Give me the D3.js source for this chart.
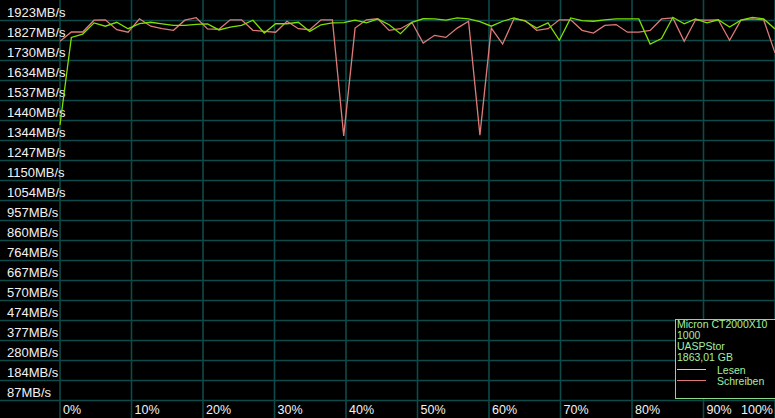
<!DOCTYPE html>
<html>
<head>
<meta charset="utf-8">
<script src="https://cdn.jsdelivr.net/npm/d3@7"></script>
<style>
  html, body { margin: 0; padding: 0; background: #000; overflow: hidden; }
  svg { display: block; }
</style>
</head>
<body>
<svg id="chart" width="775" height="418"></svg>
<script>
// ---- data ----
const yTickLabels = [1923, 1827, 1730, 1634, 1537, 1440, 1344, 1247, 1150, 1054, 957, 860, 764, 667, 570, 474, 377, 280, 184, 87];
const xTickLabels = [0, 10, 20, 30, 40, 50, 60, 70, 80, 90, 100];
const seriesNames = ["Lesen", "Schreiben"];
const deviceInfo = ["Micron CT2000X10", "1000", "UASPStor", "1863,01 GB"];

// Lesen (read) MB/s, 64 samples across 0..100%
const lesen = [1416, 1839, 1855, 1909, 1893, 1912, 1881, 1905, 1912, 1904, 1897, 1897,
  1902, 1904, 1875, 1889, 1897, 1922, 1860, 1905, 1905, 1912, 1868, 1900,
  1909, 1910, 1922, 1909, 1928, 1900, 1857, 1912, 1929, 1928, 1922, 1933,
  1928, 1915, 1893, 1917, 1933, 1917, 1884, 1909, 1825, 1933, 1920, 1917,
  1924, 1928, 1928, 1928, 1807, 1833, 1936, 1905, 1928, 1909, 1924, 1889,
  1922, 1936, 1928, 1880];

// Schreiben (write) MB/s
const schreiben = [1820, 1865, 1865, 1922, 1924, 1876, 1864, 1929, 1893, 1881, 1873, 1922,
  1934, 1880, 1878, 1924, 1924, 1873, 1868, 1864, 1917, 1881, 1876, 1924,
  1924, 1363, 1884, 1924, 1929, 1873, 1881, 1912, 1812, 1849, 1839, 1884,
  1917, 1367, 1884, 1807, 1929, 1920, 1873, 1881, 1924, 1924, 1873, 1860,
  1897, 1901, 1864, 1864, 1873, 1928, 1933, 1820, 1924, 1922, 1924, 1825,
  1922, 1928, 1924, 1764];

// ---- layout ----
const W = 775, H = 418;
const svg = d3.select("#chart");
const x = d3.scaleLinear().domain([0, 100]).range([60, 775]);
const y = d3.scaleLinear().domain([87, 1923]).range([400, 20]);
const gridColor = "#0d4a4a";
const font = "'Liberation Sans', Arial, sans-serif";

svg.append("rect").attr("width", W).attr("height", H).attr("fill", "#000");

// horizontal grid
svg.append("g").selectAll("line").data(yTickLabels).join("line")
  .attr("x1", 0).attr("x2", W)
  .attr("y1", d => Math.round(y(d)) + 0.5).attr("y2", d => Math.round(y(d)) + 0.5)
  .attr("stroke", gridColor).attr("stroke-width", 1.6);

// vertical grid
svg.append("g").selectAll("line").data(xTickLabels).join("line")
  .attr("x1", d => x(d)).attr("x2", d => x(d))
  .attr("y1", 0).attr("y2", H)
  .attr("stroke", gridColor).attr("stroke-width", 1.6);

// y labels (sit in the row above their grid line)
svg.append("g").selectAll("text").data(yTickLabels).join("text")
  .attr("x", 7).attr("y", d => Math.round(y(d)) - 3.5)
  .attr("fill", "#f2f2f2").attr("font-family", font).attr("font-size", 13)
  .text(d => d + "MB/s");

// x labels
svg.append("g").selectAll("text").data(xTickLabels).join("text")
  .attr("x", d => d === 100 ? x(d) - 2 : x(d) + 3)
  .attr("text-anchor", d => d === 100 ? "end" : "start")
  .attr("y", 414)
  .attr("fill", "#f2f2f2").attr("font-family", font).attr("font-size", 12.5)
  .text(d => d + "%");

// lines
const n = lesen.length;
const line = d3.line().x((d, i) => x(i * 100 / (n - 1))).y(d => y(d));
svg.append("path").datum(schreiben).attr("d", line)
  .attr("fill", "none").attr("stroke", "#e07a7a").attr("stroke-width", 1.3);
svg.append("path").datum(lesen).attr("d", line)
  .attr("fill", "none").attr("stroke", "#7fe000").attr("stroke-width", 1.3);

// legend
const lg = svg.append("g");
lg.append("rect").attr("x", 675.5).attr("y", 319.5).attr("width", 110).attr("height", 79)
  .attr("fill", "#000").attr("stroke", "#8ed88e").attr("stroke-width", 1);
lg.selectAll("text.info").data(deviceInfo).join("text").attr("class", "info")
  .attr("x", 677).attr("y", (d, i) => 328 + i * 11)
  .attr("fill", "#a6eea0").attr("font-family", font).attr("font-size", 10.5)
  .text(d => d);
const legendColors = ["#c4f040", "#e07a7a"];
seriesNames.forEach((s, i) => {
  lg.append("line").attr("x1", 677).attr("x2", 706)
    .attr("y1", 369.5 + i * 11).attr("y2", 369.5 + i * 11)
    .attr("stroke", legendColors[i]).attr("stroke-width", 1);
  lg.append("text").attr("x", 717).attr("y", 374 + i * 11)
    .attr("fill", "#a6eea0").attr("font-family", font).attr("font-size", 10.5)
    .text(s);
});
</script>
</body>
</html>
